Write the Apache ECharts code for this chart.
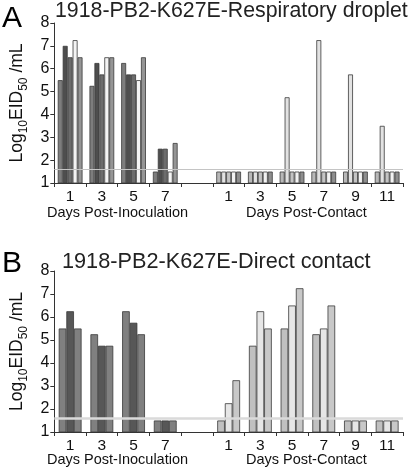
<!DOCTYPE html>
<html><head><meta charset="utf-8">
<script src="https://cdn.jsdelivr.net/npm/echarts@6/dist/echarts.min.js"></script>
<style>html,body{margin:0;padding:0;background:#fff}#c{width:416px;height:473px}</style>
</head><body><div id="c"></div>
<script>
// categories (x slots): inoculation days, spacer, contact days
const categories = ['1','3','5','7','','1','3','5','7','9','11'];
const inocSlots = [0,1,2,3];
const contactSlots = [5,6,7,8,9,10];
const detectionLimit = 1.6;

// Panel A — respiratory droplet (5 inoculated ferrets, 5 contacts), days 1,3,5,7 / 1..11
const aInoc1 = [5.5, 5.25, 6.25, 1.5];
const aInoc2 = [7.0, 6.25, 5.75, 2.5];
const aInoc3 = [6.5, 5.75, 5.75, 2.5];
const aInoc4 = [7.25, 6.5, 5.5, 1.5];
const aInoc5 = [6.5, 6.5, 6.5, 2.75];
const aCont1 = [1.5, 1.5, 1.5, 1.5, 1.5, 1.5];
const aCont2 = [1.5, 1.5, 4.75, 7.25, 5.75, 3.5];
const aCont3 = [1.5, 1.5, 1.5, 1.5, 1.5, 1.5];
const aCont4 = [1.5, 1.5, 1.5, 1.5, 1.5, 1.5];
const aCont5 = [1.5, 1.5, 1.5, 1.5, 1.5, 1.5];

// Panel B — direct contact (3 inoculated, 3 contacts)
const bInoc1 = [5.5, 5.25, 6.25, 1.5];
const bInoc2 = [6.25, 4.75, 5.75, 1.5];
const bInoc3 = [5.5, 4.75, 5.25, 1.5];
const bCont1 = [1.5, 4.75, 5.5, 5.25, 1.5, 1.5];
const bCont2 = [2.25, 6.25, 6.5, 5.5, 1.5, 1.5];
const bCont3 = [3.25, 5.5, 7.25, 6.5, 1.5, 1.5];

const FONT = 'Liberation Sans, Arial, sans-serif';

function place(vals, slots) {
  const d = categories.map(() => null);
  slots.forEach((s, i) => { d[s] = vals[i]; });
  return d;
}

function bar(vals, slots, color, xi, yi, gap, lodColor, lodWidth) {
  const s = {
    type: 'bar', xAxisIndex: xi, yAxisIndex: yi,
    data: place(vals, slots),
    barGap: '0%', barCategoryGap: gap,
    itemStyle: { color: color, borderColor: '#3a3a3a', borderWidth: 0.8 },
    silent: true, animation: false
  };
  if (lodColor) {
    s.markLine = {
      silent: true, symbol: 'none', animation: false,
      label: { show: false },
      lineStyle: { color: lodColor, width: lodWidth, type: 'solid' },
      data: [{ yAxis: detectionLimit }]
    };
  }
  return s;
}

const chart = echarts.init(document.getElementById('c'), null, { renderer: 'canvas' });

function xAx(gi, show) {
  return {
    type: 'category', gridIndex: gi, data: categories, show: show,
    boundaryGap: true,
    axisLine: { show: true, lineStyle: { color: '#333', width: 1 } },
    axisTick: { show: true, length: 4, lineStyle: { color: '#333' }, interval: 0 },
    axisLabel: { show: true, interval: 0, color: '#111', fontSize: 15.5, fontFamily: FONT, margin: 6 }
  };
}
function yAx(gi) {
  return {
    type: 'value', gridIndex: gi, min: 1, max: 8, interval: 1,
    splitLine: { show: false },
    axisLine: { show: true, lineStyle: { color: '#333', width: 1 } },
    axisTick: { show: true, length: 4, lineStyle: { color: '#333' } },
    axisLabel: { color: '#111', fontSize: 16, fontFamily: FONT, margin: 5 },
    name: '{a|Log}{s|10}{a|EID}{s|50}{a| /mL}',
    nameLocation: 'middle', nameRotate: 90, nameGap: 24,
    nameTextStyle: {
      fontFamily: FONT, color: '#111',
      rich: {
        a: { fontSize: 17.5, fontFamily: FONT, color: '#111', lineHeight: 18, verticalAlign: 'middle' },
        s: { fontSize: 12, fontFamily: FONT, color: '#111', lineHeight: 25, verticalAlign: 'bottom' }
      }
    }
  };
}

const option = {
  animation: false,
  backgroundColor: '#fff',
  grid: [
    { left: 52, right: 13, top: 23, height: 160 },
    { left: 52, right: 13, top: 271, height: 161 }
  ],
  xAxis: [xAx(0, true), xAx(0, false), xAx(1, true), xAx(1, false)],
  yAxis: [yAx(0), yAx(1)],
  series: [
    bar(aInoc1, inocSlots, '#7d7d7d', 0, 0, '22%', '#c4c4c4', 1.2),
    bar(aInoc2, inocSlots, '#4e4e4e', 0, 0, '22%'),
    bar(aInoc3, inocSlots, '#6c6c6c', 0, 0, '22%'),
    bar(aInoc4, inocSlots, '#f4f4f4', 0, 0, '22%'),
    bar(aInoc5, inocSlots, '#959595', 0, 0, '22%'),
    bar(aCont1, contactSlots, '#b8b8b8', 1, 0, '22%'),
    bar(aCont2, contactSlots, '#e2e2e2', 1, 0, '22%'),
    bar(aCont3, contactSlots, '#c4c4c4', 1, 0, '22%'),
    bar(aCont4, contactSlots, '#f2f2f2', 1, 0, '22%'),
    bar(aCont5, contactSlots, '#8e8e8e', 1, 0, '22%'),
    bar(bInoc1, inocSlots, '#808080', 2, 1, '28%', '#dadada', 2.5),
    bar(bInoc2, inocSlots, '#575757', 2, 1, '28%'),
    bar(bInoc3, inocSlots, '#808080', 2, 1, '28%'),
    bar(bCont1, contactSlots, '#c0c0c0', 3, 1, '28%'),
    bar(bCont2, contactSlots, '#e6e6e6', 3, 1, '28%'),
    bar(bCont3, contactSlots, '#c8c8c8', 3, 1, '28%')
  ],
  graphic: [
    { type: 'text', left: 2, top: 4, style: { text: 'A', fontSize: 30, fontFamily: FONT, fill: '#000' } },
    { type: 'text', left: 55, top: 1, style: { text: '1918-PB2-K627E-Respiratory droplet', fontSize: 21.3, fontFamily: FONT, fill: '#222' } },
    { type: 'text', left: 47, top: 205, style: { text: 'Days Post-Inoculation', fontSize: 14.5, fontFamily: FONT, fill: '#111' } },
    { type: 'text', left: 246, top: 205, style: { text: 'Days Post-Contact', fontSize: 14.5, fontFamily: FONT, fill: '#111' } },
    { type: 'text', left: 2, top: 249, style: { text: 'B', fontSize: 30, fontFamily: FONT, fill: '#000' } },
    { type: 'text', left: 62, top: 251, style: { text: '1918-PB2-K627E-Direct contact', fontSize: 21.7, fontFamily: FONT, fill: '#222' } },
    { type: 'text', left: 47, top: 452, style: { text: 'Days Post-Inoculation', fontSize: 14.5, fontFamily: FONT, fill: '#111' } },
    { type: 'text', left: 246, top: 452, style: { text: 'Days Post-Contact', fontSize: 14.5, fontFamily: FONT, fill: '#111' } }
  ]
};
chart.setOption(option);
</script>
</body></html>
